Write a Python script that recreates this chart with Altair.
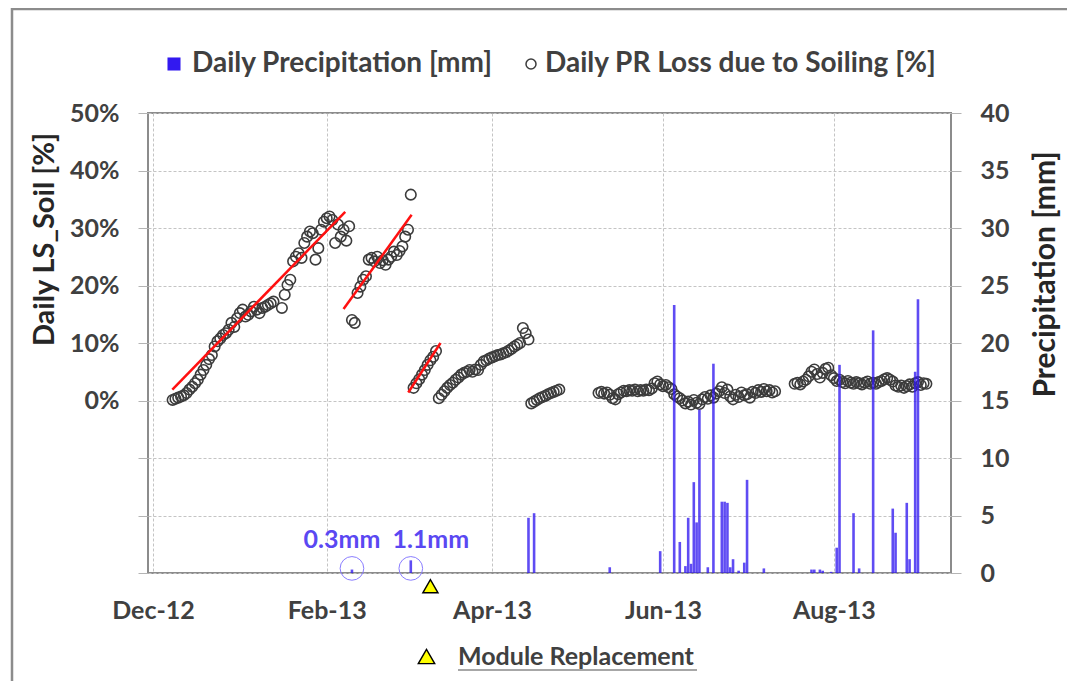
import altair as alt
import pandas as pd

START = pd.Timestamp("2012-12-01")

# ---- Daily PR loss due to soiling [%]  (day offset from 2012-12-01, value) ----
soil_day = [
    7, 8, 9, 10, 11, 12, 13, 14, 15, 16, 17, 18, 19, 20, 21, 22, 23, 24, 25, 26,
    27, 28, 29, 30, 31, 32, 33, 34, 35, 36, 37, 38, 39, 40, 41, 42, 43, 46, 47, 48,
    49, 50, 51, 52, 53, 54, 55, 56, 57, 58, 59, 60, 61, 62, 63, 64, 65, 66, 67, 68,
    69, 70,
    71, 72, 73, 74, 75, 76, 77, 78, 79, 80, 81, 82, 83, 84, 85, 86, 87, 88, 89, 90,
    91, 92,
    93, 94, 95, 96, 97, 98, 99, 100, 101,
    102, 103, 104, 105, 106, 107, 108, 109, 110, 111, 112, 113, 114, 115, 116, 117,
    118, 119, 120, 121, 122, 123, 124, 125, 126, 127, 128, 129, 130, 131, 132, 133, 134,
    135, 136, 137, 138, 139, 140, 141, 142, 143, 144, 145,
    159, 160, 161, 162, 163, 164, 165, 166, 167, 168, 169, 170, 171, 172, 173, 174,
    175, 176, 177, 178, 179, 180, 181, 182, 183, 184, 185, 186, 187, 188, 189, 190,
    191, 192, 193, 194, 195, 196, 197, 198, 199, 200, 201, 202, 203, 204, 205, 206,
    207, 208, 209, 210, 211, 212, 213, 214, 215, 216, 217, 218, 219, 220, 221, 222,
    229, 230, 231, 232, 233, 234, 235, 236, 237, 238, 239, 240, 241, 242, 243, 244,
    245, 246, 247, 248, 249, 250, 251, 252, 253, 254, 255, 256, 257, 258, 259, 260,
    261, 262, 263, 264, 265, 266, 267, 268, 269, 270, 271, 272, 273, 274, 275, 276,
]
soil_pct = [
    0.1, 0.3, 0.5, 0.7, 0.9, 1.3, 1.9, 2.4, 3.0, 3.6, 4.5, 5.3, 6.2, 7.2, 7.9, 9.4, 10.3, 10.8, 11.4, 11.7,
    12.3, 13.5, 12.8, 14.3, 15.2, 15.8, 14.6, 14.9, 15.5, 16.3, 15.8, 15.2, 16.1, 16.3, 16.6, 16.9, 17.2, 16.1, 18.4, 20.1,
    21.0, 24.2, 25.0, 25.6, 24.8, 27.4, 28.5, 29.4, 29.1, 24.5, 26.5, 29.7, 31.1, 31.7, 32.0, 31.4, 27.4, 30.6, 28.5, 29.7,
    27.8, 30.3,
    14.0, 13.5, 18.7, 19.8, 21.0, 21.6, 24.5, 24.8, 24.2, 25.0, 23.9, 24.4, 23.6, 24.5, 25.0, 25.9, 25.3, 26.0, 26.8, 28.5,
    29.7, 35.8,
    2.2, 3.0, 3.7, 4.5, 5.3, 6.2, 7.0, 7.6, 8.6,
    0.4, 1.0, 1.6, 2.2, 2.7, 3.1, 3.6, 4.0, 4.5, 4.8, 5.0, 5.3, 5.0, 5.4, 5.3, 6.2,
    6.8, 7.0, 7.3, 7.5, 7.7, 7.9, 8.0, 8.2, 8.4, 8.7, 9.0, 9.4, 9.7, 10.0, 12.6, 11.7, 10.6,
    -0.5, -0.2, 0.1, 0.4, 0.6, 0.8, 1.1, 1.3, 1.5, 1.7, 1.9,
    1.3, 1.5, 1.2, 1.4, 1.0, 0.4, 0.2, 1.1, 1.4, 1.7, 1.6, 1.8, 1.7, 1.9, 1.6, 1.8,
    1.7, 1.9, 1.8, 2.1, 3.0, 3.3, 2.8, 2.5, 2.7, 2.3, 2.0, 1.1, 0.7, 0.4, 0.0, -0.5,
    -0.2, -0.7, 0.1, -0.4, -0.6, 0.2, 0.6, 0.3, 0.9, 0.5, 1.2, 1.6, 2.3, 1.3, 1.9, 0.7,
    0.2, 1.0, 0.6, 1.4, 0.9, 1.1, 0.5, 1.5, 1.3, 1.8, 1.5, 2.0, 1.6, 1.8, 1.4, 1.6,
    2.9, 3.1, 2.8, 3.3, 3.6, 4.2, 5.0, 5.4, 4.6, 4.0, 4.8, 5.5, 5.7, 4.4, 3.9, 3.4,
    3.6, 3.2, 3.0, 3.4, 3.1, 2.9, 3.2, 3.0, 2.8, 3.1, 3.3, 2.9, 3.1, 2.9, 3.2, 3.4,
    3.7, 3.9, 3.6, 3.3, 2.6, 2.4, 2.6, 2.2, 2.5, 2.8, 2.4, 3.0, 3.2, 2.7, 3.0, 2.9,
]

# ---- Daily precipitation [mm] ----
precip_day = [71, 92, 134, 136, 163, 181, 186, 188, 190, 191, 192, 193, 194, 195, 198,
              200, 203, 204, 205, 206, 207, 209, 211, 212, 218, 235, 236, 238, 239, 242,
              244, 245, 250, 252, 257, 264, 265, 269, 270, 272, 273]
precip_mm = [0.3, 1.1, 4.8, 5.2, 0.5, 1.9, 23.3, 2.7, 0.6, 4.8, 0.8, 7.9, 4.4, 14.2, 0.5,
             18.2, 6.2, 6.2, 6.1, 0.5, 1.2, 0.2, 0.9, 8.1, 0.4, 0.3, 0.3, 0.3, 0.2, 0.1,
             2.2, 18.1, 5.2, 0.4, 21.1, 5.6, 3.5, 6.1, 1.2, 17.5, 23.8]

# ---- linear soiling trends (red lines) ----
trend_id = ["t1", "t1", "t2", "t2", "t3", "t3"]
trend_day = [6.9, 68.6, 68.0, 92.3, 91.1, 102.6]
trend_pct = [1.9, 32.8, 15.9, 32.3, 1.4, 10.0]

# ---- annotations ----
note_label = ["0.3mm", "1.1mm"]
note_day = [71, 92]
replacement_day = [99]
replacement_label = ["Module Replacement"]

precip_name = "Daily Precipitation [mm]"
soil_name = "Daily PR Loss due to Soiling [%]"

FONT = "Lato"
TXT = "#404040"
TITLE = "#262626"
BLUE = "#3219f0"
GRID = "#c4c4c4"
TICK_FS = 25
TITLE_FS = 29
LEGEND_FS = 28


def to_date(days):
    return START + pd.to_timedelta(days, unit="D")


soil_df = pd.DataFrame({"date": to_date(soil_day), "pct": soil_pct, "series": soil_name})
precip_df = pd.DataFrame({"date": to_date(precip_day), "mm": precip_mm, "series": precip_name})
trend_df = pd.DataFrame({"date": to_date(trend_day), "pct": trend_pct, "id": trend_id})
note_df = pd.DataFrame({"date": to_date(note_day), "label": note_label})
repl_df = pd.DataFrame({"date": to_date(replacement_day), "event": replacement_label})
one_df = pd.DataFrame({"k": [0]})

x_ticks = [alt.DateTime(year=2012, month=12, date=1),
           alt.DateTime(year=2013, month=2, date=1),
           alt.DateTime(year=2013, month=4, date=1),
           alt.DateTime(year=2013, month=6, date=1),
           alt.DateTime(year=2013, month=8, date=1)]

x_enc = alt.X(
    "date:T",
    scale=alt.Scale(domain=[alt.DateTime(year=2012, month=12, date=1),
                            alt.DateTime(year=2013, month=9, date=10)]),
    axis=alt.Axis(title=None, format="%b-%y", values=x_ticks, grid=True,
                  gridColor=GRID, gridDash=[3, 2], ticks=False, tickSize=0,
                  domain=False, labelPadding=25, labelFlush=False, labelOverlap=False,
                  labelFont=FONT, labelFontSize=TICK_FS, labelFontWeight="bold",
                  labelColor=TXT),
)

y_left = alt.Y(
    "pct:Q",
    scale=alt.Scale(domain=[-30, 50], nice=False, zero=False),
    axis=alt.Axis(title="Daily LS_Soil [%]", values=list(range(-30, 51, 10)),
                  labelExpr="datum.value >= 0 ? datum.value + '%' : ''",
                  grid=True, gridColor=GRID, gridDash=[3, 2], tickSize=10,
                  tickColor="#b4b4b4", domain=False, labelPadding=19,
                  labelFont=FONT, labelFontSize=TICK_FS, labelFontWeight="bold",
                  labelColor=TXT, titleFont=FONT, titleFontSize=TITLE_FS,
                  titleFontWeight="bold", titleColor=TITLE, titleAngle=270,
                  titleX=-104, titleY=126, titleAlign="center",
                  titleBaseline="middle", titleLimit=400),
)

y_right = alt.Y(
    "mm:Q",
    scale=alt.Scale(domain=[0, 40], nice=False),
    axis=alt.Axis(orient="right", title="Precipitation [mm]",
                  values=list(range(0, 41, 5)), grid=False, tickSize=10,
                  tickColor="#b4b4b4", domain=False, labelPadding=19,
                  labelFont=FONT, labelFontSize=TICK_FS, labelFontWeight="bold",
                  labelColor=TXT, titleFont=FONT, titleFontSize=30,
                  titleFontWeight="bold", titleColor=TITLE, titleAngle=270,
                  titleX=94, titleY=161, titleAlign="center",
                  titleBaseline="middle", titleLimit=400),
)

legend_common = dict(
    orient="none", title=None, labelFont=FONT, labelFontWeight="bold",
    labelColor=TXT, labelLimit=0, padding=0, symbolOpacity=1,
)

frame_top = alt.Chart(one_df).mark_rule(color="#8c8c8c", strokeWidth=2.5).encode(
    x=alt.value(-137), x2=alt.value(1200), y=alt.value(-104)
)
frame_left = alt.Chart(one_df).mark_rule(color="#8c8c8c", strokeWidth=2.5).encode(
    x=alt.value(-136), y=alt.value(-105), y2=alt.value(900)
)

points = alt.Chart(soil_df).mark_point(size=110, strokeWidth=1.6, opacity=1).encode(
    x=x_enc,
    y=y_left,
    stroke=alt.Stroke(
        "series:N", scale=alt.Scale(domain=[soil_name], range=["#3c3c3c"]),
        legend=alt.Legend(legendX=369, legendY=-63, direction="horizontal",
                          symbolType="circle", symbolSize=100, symbolStrokeWidth=1.5,
                          labelOffset=0, labelFontSize=LEGEND_FS, **legend_common)),
)

trends = alt.Chart(trend_df).mark_line(color="#ff1010", strokeWidth=2.5).encode(
    x=x_enc, y=y_left, detail="id:N"
)

bars = alt.Chart(precip_df).mark_bar(size=2.6, opacity=0.78).encode(
    x=x_enc,
    y=y_right,
    color=alt.Color(
        "series:N", scale=alt.Scale(domain=[precip_name], range=[BLUE]),
        legend=alt.Legend(legendX=12, legendY=-63, direction="horizontal",
                          symbolType="square", symbolSize=170, labelOffset=4,
                          labelFontSize=LEGEND_FS, **legend_common)),
)

note_circles = alt.Chart(note_df).mark_point(
    shape="circle", size=560, filled=False, color="#8a7dff", strokeWidth=1, opacity=1
).encode(x=x_enc, y=alt.YDatum(0.4))

note_text_a = alt.Chart(note_df.iloc[[0]]).mark_text(
    font=FONT, fontSize=25, fontWeight="bold", color="#5a48f2", dx=-10, baseline="middle"
).encode(x=x_enc, y=alt.YDatum(2.9), text="label:N")

note_text_b = alt.Chart(note_df.iloc[[1]]).mark_text(
    font=FONT, fontSize=25, fontWeight="bold", color="#5a48f2", dx=20, baseline="middle"
).encode(x=x_enc, y=alt.YDatum(2.9), text="label:N")

triangle = alt.Chart(repl_df).mark_point(
    shape="triangle-up", filled=True, fill="#ffff00", strokeWidth=1.4, size=230, opacity=1
).encode(
    x=x_enc,
    y=alt.YDatum(-1.15),
    stroke=alt.Stroke(
        "event:N", scale=alt.Scale(domain=replacement_label, range=["#000000"]),
        legend=alt.Legend(legendX=266, legendY=531, symbolType="triangle-up",
                          symbolSize=270, symbolStrokeWidth=1.4,
                          symbolFillColor="#ffff00", labelOffset=19,
                          labelFontSize=25, **legend_common)),
)

underline = alt.Chart(one_df).mark_rule(color="#8a8a8a", strokeWidth=1.5).encode(
    x=alt.value(310), x2=alt.value(549), y=alt.value(557)
)

left = alt.layer(frame_top, frame_left, points, trends)
right = alt.layer(bars, note_circles, note_text_a, note_text_b, triangle, underline)

chart = alt.layer(left, right).resolve_scale(y="independent", stroke="independent").properties(
    width=803, height=460, autosize="none",
    padding={"left": 140, "top": 105, "right": 116, "bottom": 108},
    background="white",
).configure_view(stroke="#8c8c8c", strokeWidth=2)

chart.save("out.html", embed_options={"renderer": "svg", "actions": False})
